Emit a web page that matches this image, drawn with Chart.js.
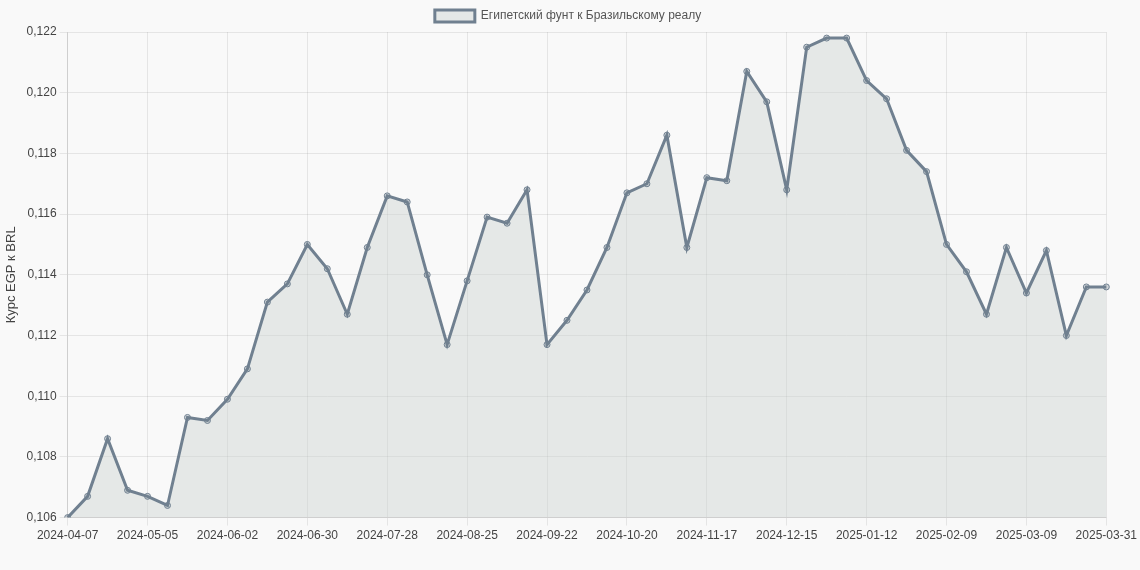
<!DOCTYPE html>
<html>
<head>
<meta charset="utf-8">
<script src="https://cdn.jsdelivr.net/npm/chart.js@4"></script>
<style>
  html, body { margin: 0; padding: 0; background: #f9f9f9; }
  #wrap { width: 1140px; height: 570px; }
</style>
</head>
<body>
<div id="wrap"><canvas id="chart"></canvas></div>
<script>
const startDate = '2024-04-07';
const lastLabel = '2025-03-31';
const rates = [
  0.1060, 0.1067, 0.1086, 0.1069, 0.1067, 0.1064, 0.1093, 0.1092, 0.1099, 0.1109,
  0.1131, 0.1137, 0.1150, 0.1142, 0.1127, 0.1149, 0.1166, 0.1164, 0.1140, 0.1117,
  0.1138, 0.1159, 0.1157, 0.1168, 0.1117, 0.1125, 0.1135, 0.1149, 0.1167, 0.1170,
  0.1186, 0.1149, 0.1172, 0.1171, 0.1207, 0.1197, 0.1168, 0.1215, 0.1218, 0.1218,
  0.1204, 0.1198, 0.1181, 0.1174, 0.1150, 0.1141, 0.1127, 0.1149, 0.1134, 0.1148,
  0.1120, 0.1136, 0.1136
];

// weekly dates, last point is 2025-03-31
const labels = rates.map((_, i) => {
  if (i === rates.length - 1) return lastLabel;
  const d = new Date(startDate + 'T00:00:00Z');
  d.setUTCDate(d.getUTCDate() + i * 7);
  return d.toISOString().slice(0, 10);
});

const lineColor = 'rgb(112, 128, 144)';

new Chart(document.getElementById('chart'), {
  type: 'line',
  data: {
    labels: labels,
    datasets: [{
      label: 'Египетский фунт к Бразильскому реалу',
      data: rates,
      borderColor: lineColor,
      backgroundColor: 'rgba(200, 208, 205, 0.4)',
      borderWidth: 3,
      fill: true,
      tension: 0,
      pointRadius: 3,
      pointBackgroundColor: 'rgba(112, 128, 144, 0.3)',
      pointBorderColor: lineColor,
      pointBorderWidth: 1
    }]
  },
  options: {
    responsive: true,
    maintainAspectRatio: false,
    animation: false,
    layout: { padding: { right: 4, bottom: 24 } },
    plugins: {
      legend: {
        labels: { color: '#555', font: { family: 'Liberation Sans', size: 12 } }
      }
    },
    scales: {
      x: {
        grid: { color: 'rgba(0,0,0,0.08)' },
        ticks: {
          color: '#444',
          maxRotation: 0,
          autoSkip: false,
          font: { family: 'Liberation Sans', size: 12 },
          callback: function (v, i) { return i % 4 === 0 ? labels[i] : null; }
        }
      },
      y: {
        min: 0.106,
        max: 0.122,
        grid: { color: 'rgba(0,0,0,0.08)' },
        title: { display: true, text: 'Курс EGP к BRL', color: '#444', font: { family: 'Liberation Sans', size: 13 } },
        ticks: {
          stepSize: 0.002,
          color: '#444',
          font: { family: 'Liberation Sans', size: 12 },
          callback: v => v.toFixed(3).replace('.', ',')
        }
      }
    }
  }
});
</script>
</body>
</html>
